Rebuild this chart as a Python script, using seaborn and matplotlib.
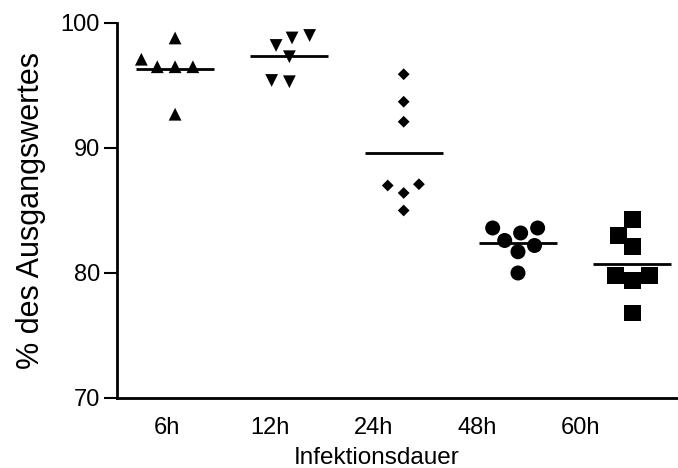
import numpy as np
import pandas as pd
import matplotlib
matplotlib.use("Agg")
import matplotlib.pyplot as plt
import seaborn as sns

# values (% des Ausgangswertes)
groups = ["6h", "12h", "24h", "48h", "60h"]
vals_6h = [98.8, 97.1, 96.5, 96.5, 96.5, 92.7]
vals_12h = [98.2, 98.8, 99.0, 97.3, 95.3, 95.4]
vals_24h = [95.9, 93.7, 92.1, 87.0, 87.1, 86.4, 85.0]
vals_48h = [83.6, 83.2, 83.6, 82.2, 82.6, 81.7, 80.0]
vals_60h = [84.3, 83.0, 82.1, 79.8, 79.4, 79.8, 76.8]
yticks = [70, 80, 90, 100]

all_vals = [vals_6h, vals_12h, vals_24h, vals_48h, vals_60h]
df = pd.DataFrame({
    "Infektionsdauer": np.repeat(groups, [len(v) for v in all_vals]),
    "Wert": np.concatenate(all_vals),
})

sns.set_style("ticks")
plt.rcParams["font.family"] = ["Liberation Sans", "DejaVu Sans"]
for k in ["text.color", "axes.labelcolor", "xtick.color", "ytick.color",
          "axes.edgecolor"]:
    plt.rcParams[k] = "black"

fig = plt.figure(figsize=(6.78, 4.68), dpi=100)
ax = fig.add_axes([0.1726, 0.1496, 0.8274, 0.8013])

# mean lines
sns.pointplot(data=df, x="Infektionsdauer", y="Wert", order=groups,
              estimator="mean", errorbar=None, markers="_", linestyles="none",
              color="black", markersize=56, markeredgewidth=2, ax=ax)

markers = {"6h": "^", "12h": "v", "24h": "D", "48h": "o", "60h": "s"}
msize = {"6h": 9.2, "12h": 9.2, "24h": 6.0, "48h": 10.8, "60h": 12.2}
spacing = 12.2  # swarm spacing in points, wider than the markers
for g in groups:
    sub = df[df["Infektionsdauer"] == g]
    # invisible edge widens the swarm spacing without drawing anything
    sns.swarmplot(data=sub, x="Infektionsdauer", y="Wert", order=groups,
                  marker=markers[g], color="black", size=msize[g],
                  linewidth=max(spacing - msize[g], 0.01), edgecolor="none",
                  ax=ax)

ax.set_xlim(-0.508, 4.40)
ax.set_ylim(70, 100)
ax.set_yticks(yticks)
ax.set_xticks(np.arange(len(groups)) * 0.904 - 0.07)
ax.set_xticklabels(groups)
ax.tick_params(axis="x", length=0, pad=14, labelsize=17)
ax.tick_params(axis="y", length=9.4, width=1.5, pad=3, labelsize=17,
               direction="out")
for side in ["top", "right"]:
    ax.spines[side].set_visible(False)
for side in ["left", "bottom"]:
    ax.spines[side].set_linewidth(2)

ax.set_xlabel("Infektionsdauer", fontsize=17.5)
ax.set_ylabel("% des Ausgangswertes", fontsize=22)
ax.xaxis.set_label_coords(0.463, -0.13)
ax.yaxis.set_label_coords(-0.127, 0.5)

fig.savefig("out.png", dpi=100)
